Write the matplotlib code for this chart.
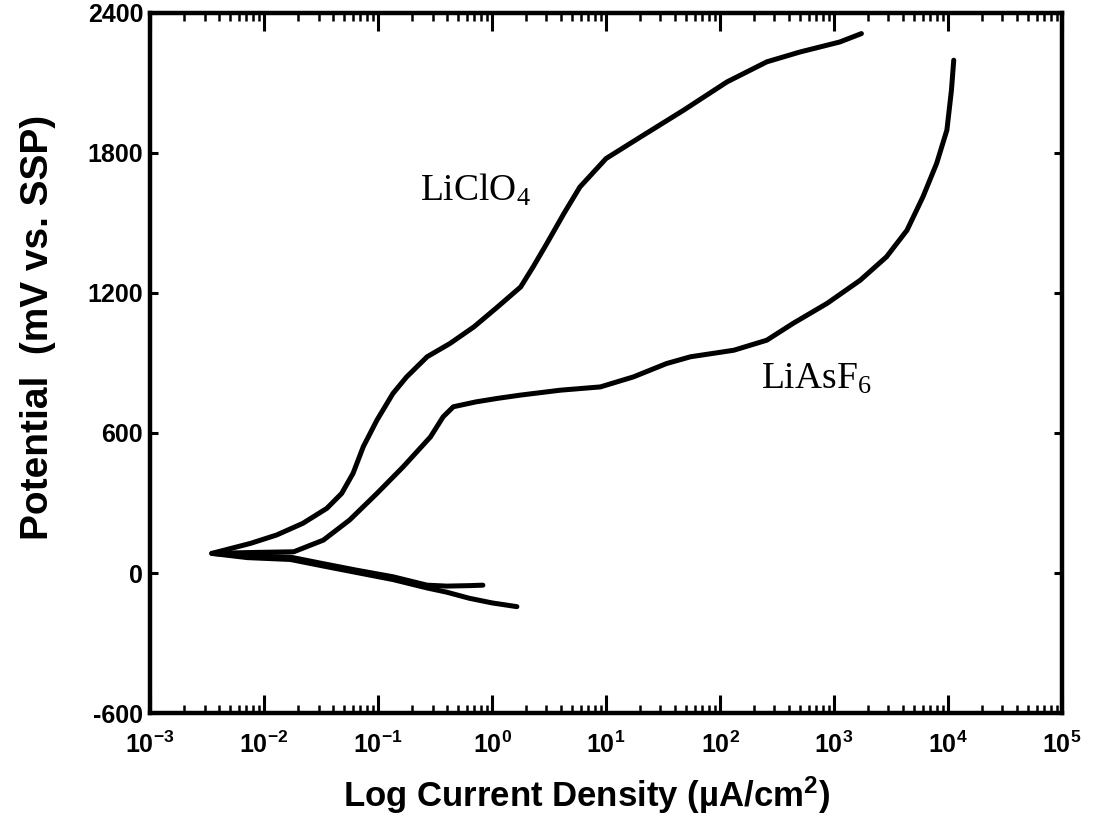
import matplotlib
matplotlib.use('Agg')
import matplotlib.pyplot as plt
from matplotlib.ticker import LogLocator, NullFormatter

# polarization curves
# current density (uA/cm2) and potential (mV vs. SSP)
# each curve: cathodic end -> corrosion point -> anodic end
liclo4_i = [0.83, 0.63, 0.4, 0.269, 0.135, 0.065, 0.033, 0.017, 0.0071,
            0.00347, 0.0076, 0.0129, 0.0219, 0.0355, 0.0479, 0.0603, 0.0741,
            0.0977, 0.135, 0.178, 0.269, 0.427, 0.692, 1.12, 1.78, 2.29,
            3.02, 4.27, 5.89, 10.0, 20.0, 47.9, 115, 257, 501, 1122, 1738]
liclo4_mv = [-52, -54, -56, -52, -16, 12, 40, 68, 74,
             84, 127, 163, 213, 277, 341, 427, 541,
             655, 769, 840, 926, 983, 1054, 1140, 1225, 1311,
             1411, 1540, 1653, 1775, 1867, 1982, 2103, 2189, 2231, 2274, 2310]

liasf6_i = [1.65, 1.0, 0.63, 0.4, 0.269, 0.135, 0.065, 0.033, 0.017, 0.0071,
            0.00347, 0.0079, 0.0182, 0.0331, 0.0562, 0.0977, 0.166, 0.288,
            0.372, 0.457, 0.724, 1.12, 1.78, 3.98, 8.91, 17.4, 33.9, 55.0,
            132, 257, 437, 871, 1698, 2884, 4365, 6026, 7943, 9772, 10715, 11220]
liasf6_mv = [-144, -128, -108, -82, -64, -28, 2, 30, 58, 66,
             84, 88, 91, 141, 227, 341, 455, 583,
             669, 712, 733, 748, 762, 783, 797, 840, 897, 926,
             954, 997, 1069, 1155, 1254, 1354, 1468, 1611, 1754, 1897, 2068, 2196]

x_ticks = [1e-3, 1e-2, 1e-1, 1e0, 1e1, 1e2, 1e3, 1e4, 1e5]
x_tick_labels = ['$10^{-3}$', '$10^{-2}$', '$10^{-1}$', '$10^{0}$', '$10^{1}$',
                 '$10^{2}$', '$10^{3}$', '$10^{4}$', '$10^{5}$']
y_ticks = [-600, 0, 600, 1200, 1800, 2400]

plt.rcParams['font.family'] = ['Liberation Sans', 'DejaVu Sans']
plt.rcParams['font.weight'] = 'bold'
plt.rcParams['mathtext.default'] = 'regular'

fig = plt.figure(figsize=(10.96, 8.38), dpi=100)
ax = fig.add_axes([0.137, 0.149, 0.832, 0.836])

ax.plot(liclo4_i, liclo4_mv, color='black', lw=3.6, solid_capstyle='round')
ax.plot(liasf6_i, liasf6_mv, color='black', lw=3.6, solid_capstyle='round')

ax.set_xscale('log')
ax.set_xlim(1e-3, 1e5)
ax.set_ylim(-600, 2400)

ax.set_xticks(x_ticks)
ax.set_xticklabels(x_tick_labels, fontsize=18, fontweight='bold')
ax.xaxis.set_minor_locator(LogLocator(base=10, subs=range(2, 10), numticks=20))
ax.xaxis.set_minor_formatter(NullFormatter())
ax.set_yticks(y_ticks)
ax.set_yticklabels([str(v) for v in y_ticks], fontsize=18, fontweight='bold')

ax.tick_params(axis='x', which='major', direction='in', length=13, width=2.2,
               top=True, pad=13)
ax.tick_params(axis='x', which='minor', direction='in', length=6, width=1.8,
               top=True)
ax.tick_params(axis='y', which='major', direction='in', length=6, width=2.2,
               right=True, pad=5)

for sp in ax.spines.values():
    sp.set_linewidth(3.2)

ax.set_xlabel('Log Current Density (µA/cm$^{2}$)', fontsize=25,
              fontweight='bold')
ax.xaxis.set_label_coords(0.479, -0.088)
ax.set_ylabel('Potential  (mV vs. SSP)', fontsize=28, fontweight='bold')
ax.yaxis.set_label_coords(-0.103, 0.55)

ax.text(0.71, 1640, 'LiClO$_4$', family='Liberation Serif', fontsize=27,
        fontweight='normal', ha='center', va='center')
ax.text(700, 830, 'LiAsF$_6$', family='Liberation Serif', fontsize=27,
        fontweight='normal', ha='center', va='center')

fig.savefig('out.png', dpi=100)
